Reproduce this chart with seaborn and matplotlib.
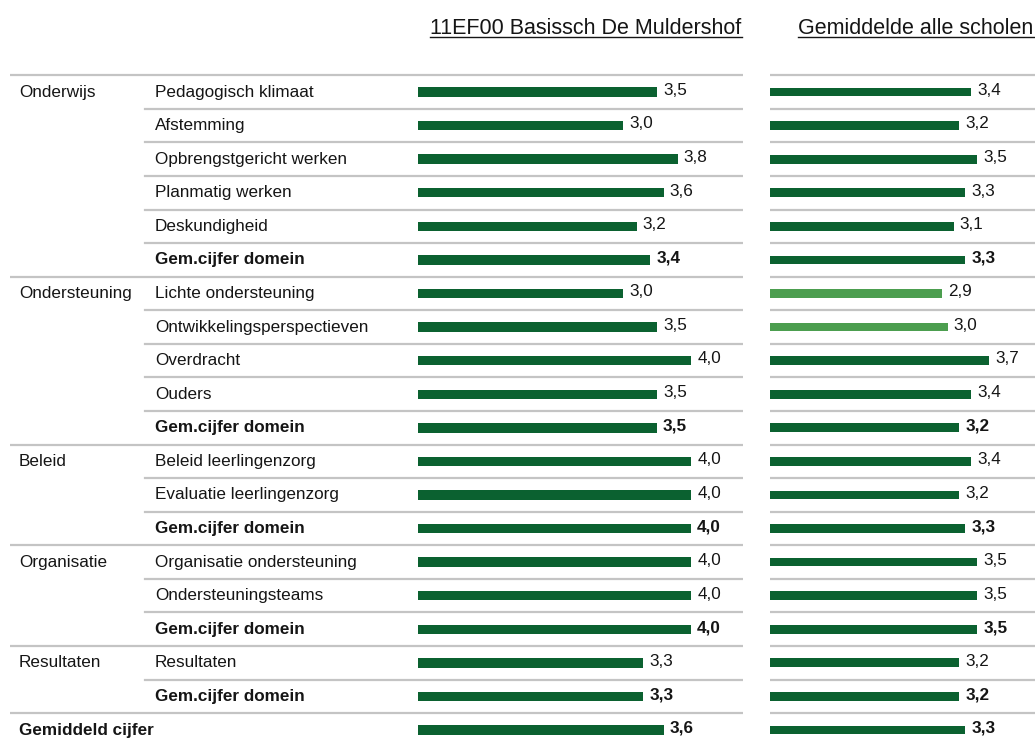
import numpy as np
import pandas as pd
import matplotlib
matplotlib.use('Agg')
import matplotlib.pyplot as plt
import seaborn as sns
from matplotlib.lines import Line2D

# data
domeinen = ['Onderwijs', '', '', '', '', '',
            'Ondersteuning', '', '', '', '',
            'Beleid', '', '',
            'Organisatie', '', '',
            'Resultaten', '',
            'Gemiddeld cijfer']
onderdelen = ['Pedagogisch klimaat', 'Afstemming', 'Opbrengstgericht werken',
              'Planmatig werken', 'Deskundigheid', 'Gem.cijfer domein',
              'Lichte ondersteuning', 'Ontwikkelingsperspectieven', 'Overdracht',
              'Ouders', 'Gem.cijfer domein',
              'Beleid leerlingenzorg', 'Evaluatie leerlingenzorg', 'Gem.cijfer domein',
              'Organisatie ondersteuning', 'Ondersteuningsteams', 'Gem.cijfer domein',
              'Resultaten', 'Gem.cijfer domein',
              '']
school = [3.5, 3.0, 3.8, 3.6, 3.2, 3.4,
          3.0, 3.5, 4.0, 3.5, 3.5,
          4.0, 4.0, 4.0,
          4.0, 4.0, 4.0,
          3.3, 3.3,
          3.6]
alle_scholen = [3.4, 3.2, 3.5, 3.3, 3.1, 3.3,
                2.9, 3.0, 3.7, 3.4, 3.2,
                3.4, 3.2, 3.3,
                3.5, 3.5, 3.5,
                3.2, 3.2,
                3.3]
kleur_alle = ['donker'] * 6 + ['licht', 'licht'] + ['donker'] * 12
vet = [False] * 5 + [True] + [False] * 4 + [True] + [False] * 2 + [True] + \
      [False] * 2 + [True] + [False] + [True] + [True]

titel_school = '11EF00 Basissch De Muldershof'
titel_alle = 'Gemiddelde alle scholen'

df = pd.DataFrame({'rij': range(len(school)), 'school': school,
                   'alle': alle_scholen, 'kleur': kleur_alle})
df['kleur_school'] = 'donker'

palet = {'donker': '#0b6130', 'licht': '#4c9e4f'}
lijn = '#c4c4c4'
tekst = '#151515'

plt.rcParams['font.family'] = ['Liberation Sans', 'DejaVu Sans']

W, H = 1035, 740
fig = plt.figure(figsize=(W / 100, H / 100), dpi=100)

pitch = 33.58
y0 = 92
top_px = 60
ylim = ((H - y0) / pitch, (top_px - y0) / pitch)


def ax_rect(left, right):
    return [left / W, 0, (right - left) / W, (H - top_px) / H]


# left panel (labels + school bars)
ax1 = fig.add_axes(ax_rect(10, 743))
s1 = 68.3
ax1.set_xlim(-(418 - 10) / s1, (743 - 418) / s1)
# right panel
ax2 = fig.add_axes(ax_rect(770, 1035))
s2 = 59.2
ax2.set_xlim(0, (1035 - 770) / s2)

sns.barplot(data=df, x='school', y='rij', hue='kleur_school', palette=palet,
            orient='h', width=0.28, dodge=False, legend=False, saturation=1,
            ax=ax1)
sns.barplot(data=df, x='alle', y='rij', hue='kleur', palette=palet,
            orient='h', width=0.26, dodge=False, legend=False, saturation=1,
            ax=ax2)

for ax in (ax1, ax2):
    ax.set_ylim(*ylim)
    ax.axis('off')

# separators
start_deel = (145 - 10) / (743 - 10)
for i in range(len(school)):
    nieuw_domein = domeinen[i] != ''
    ax1.axhline(i - 0.5, xmin=0 if nieuw_domein else start_deel, xmax=1,
                color=lijn, lw=1.6, zorder=0)
    ax2.axhline(i - 0.5, color=lijn, lw=1.6, zorder=0)

# texts
fs = 12.3
ytr = ax1.get_yaxis_transform()
for i in range(len(school)):
    w = 'bold' if vet[i] else 'normal'
    if domeinen[i]:
        ax1.text((19 - 10) / 733, i, domeinen[i], transform=ytr, va='center',
                 ha='left', fontsize=fs, color=tekst,
                 fontweight='bold' if domeinen[i] == 'Gemiddeld cijfer' else 'normal')
    ax1.text((155 - 10) / 733, i, onderdelen[i], transform=ytr, va='center',
             ha='left', fontsize=fs, color=tekst, fontweight=w)
    ax1.text(school[i] + 6 / s1, i - 0.05, f'{school[i]:.1f}'.replace('.', ','),
             va='center', ha='left', fontsize=fs, color=tekst, fontweight=w)
    ax2.text(alle_scholen[i] + 6 / s2, i - 0.05,
             f'{alle_scholen[i]:.1f}'.replace('.', ','),
             va='center', ha='left', fontsize=fs, color=tekst, fontweight=w)

# underlined headers
t1 = fig.text(586 / W, 1 - 28 / H, titel_school, ha='center', va='center',
              fontsize=15.5, color=tekst)
t2 = fig.text(916 / W, 1 - 28 / H, titel_alle, ha='center', va='center',
              fontsize=15.5, color=tekst)
fig.canvas.draw()
r = fig.canvas.get_renderer()
for t in (t1, t2):
    bb = t.get_window_extent(r).transformed(fig.transFigure.inverted())
    fig.add_artist(Line2D([bb.x0, bb.x1], [bb.y0 + 0.002, bb.y0 + 0.002],
                          transform=fig.transFigure, color=tekst, lw=1))

fig.savefig('out.png', dpi=100)
